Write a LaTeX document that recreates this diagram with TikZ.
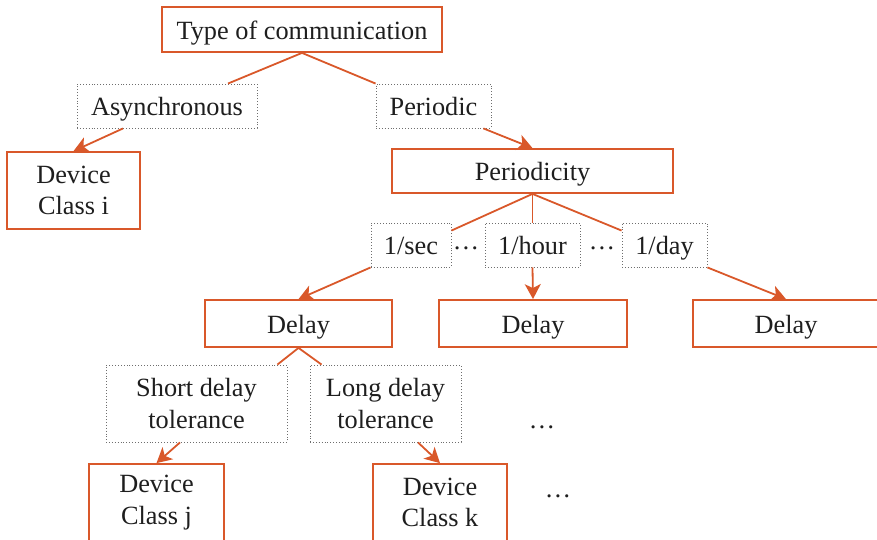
\documentclass[tikz,border=0pt]{standalone}
\usepackage{fontspec}
\setmainfont{Liberation Serif}
\usetikzlibrary{arrows.meta}
\definecolor{org}{RGB}{217,88,42}
\definecolor{txt}{RGB}{30,30,30}
\definecolor{dotgray}{RGB}{110,110,110}
\begin{document}
\begin{tikzpicture}[x=1pt,y=-1pt,
  font=\fontsize{26.3}{31.5}\selectfont,
  solidbox/.style={draw=org, line width=1.8pt, inner sep=0pt, text=txt},
  dotbox/.style={draw=dotgray, dotted, line width=0.9pt, inner sep=0pt, text=txt},
  oneline/.style={text height=24pt, text depth=5pt},
  twoline/.style={align=center},
  conn/.style={draw=org, line width=1.8pt},
  arr/.style={conn, -{Stealth[length=15pt,width=16pt,inset=4pt]}},
  dots/.style={text=txt, inner sep=0pt}]
\useasboundingbox (0,0) rectangle (877,539);
\clip (0,0) rectangle (877,539);

% level 0
\node[solidbox, oneline, minimum width=280pt, minimum height=45pt] (type) at (302,29.5) {Type of communication};
% level 1
\node[dotbox, oneline, minimum width=180pt, minimum height=44pt] (async) at (167,106) {Asynchronous};
\node[dotbox, oneline, minimum width=115pt, minimum height=44pt] (periodic) at (433.5,106) {Periodic};
% level 2
\node[solidbox, twoline, minimum width=133pt, minimum height=77pt] (devi) at (73.5,190.5) {Device\\Class i};
\node[solidbox, oneline, minimum width=281pt, minimum height=44pt] (periodicity) at (532.5,171) {Periodicity};
% level 3
\node[dotbox, oneline, minimum width=80pt, minimum height=44pt] (sec) at (411,245) {1/sec};
\node[dotbox, oneline, minimum width=95pt, minimum height=44pt] (hour) at (532.5,245) {1/hour};
\node[dotbox, oneline, minimum width=85pt, minimum height=44pt] (day) at (664.5,245) {1/day};
\node[dots] (dA) at (466,248) {…};
\node[dots] (dB) at (602,248) {…};
% level 4
\node[solidbox, oneline, minimum width=187pt, minimum height=47pt] (delayL) at (298.5,323.5) {Delay};
\node[solidbox, oneline, minimum width=188pt, minimum height=47pt] (delayM) at (533,323.5) {Delay};
\node[solidbox, oneline, minimum width=186pt, minimum height=47pt] (delayR) at (786,323.5) {Delay};
% level 5
\node[dotbox, twoline, minimum width=181pt, minimum height=77pt] (shortd) at (196.5,403.5) {Short delay\\tolerance};
\node[dotbox, twoline, minimum width=151pt, minimum height=77pt] (longd) at (385.5,403.5) {Long delay\\tolerance};
\node[dots] (dC) at (542,427) {…};
% level 6
\node[solidbox, twoline, minimum width=135pt, minimum height=77pt] (devj) at (156.5,502.5) {Device\\Class j};
\node[solidbox, twoline, minimum width=134pt, minimum height=77pt] (devk) at (440,502.5) {Device\\Class k};
\node[dots] (dD) at (558,496) {…};

% connectors
\draw[conn] ([xshift=61pt]async.north) -- (type.south) -- (periodic.north west);
\draw[arr] ([xshift=-44pt]async.south) -- (devi.north);
\draw[arr] ([xshift=-8pt]periodic.south east) -- (periodicity.north);
\draw[conn] ([yshift=-8pt]sec.north east) -- (periodicity.south) -- ([yshift=-8pt]day.north west);
\draw[conn] (periodicity.south) -- (hour.north);
\draw[arr] (sec.south west) -- (delayL.north);
\draw[arr] (hour.south) -- (delayM.north);
\draw[arr] (day.south east) -- (delayR.north);
\draw[conn] ([xshift=-10pt]shortd.north east) -- (delayL.south) -- ([xshift=12pt]longd.north west);
\draw[arr] ([xshift=-16.5pt]shortd.south) -- (devj.north);
\draw[arr] ([xshift=32.5pt]longd.south) -- (devk.north);
\end{tikzpicture}
\end{document}
